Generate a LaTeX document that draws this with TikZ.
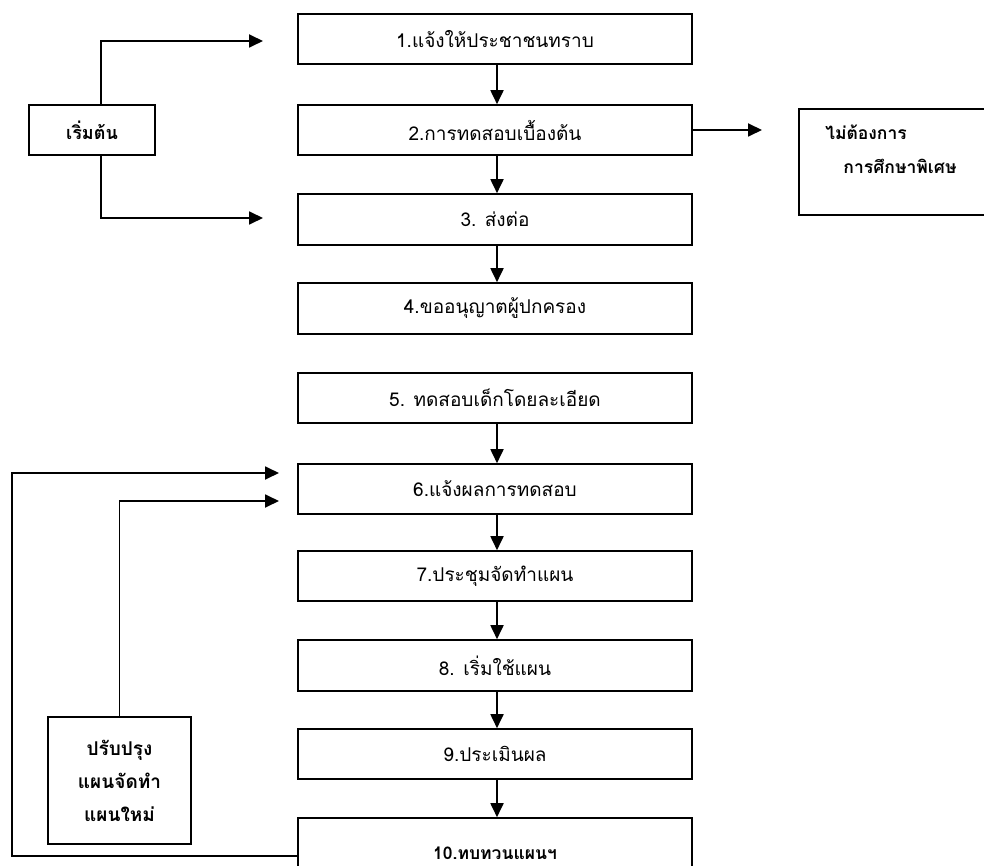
\documentclass[tikz,border=0pt]{standalone}
\usepackage{fontspec}
\newfontfamily\thai[Script=Thai]{Loma}
\usetikzlibrary{arrows.meta,calc}
\begin{document}
\begin{tikzpicture}[x=1pt,y=-1pt,
  box/.style={draw,line width=1.6pt,minimum width=394pt,minimum height=50pt,inner sep=0pt,font=\thai\fontsize{19}{22}\selectfont},
  sidebox/.style={draw,line width=1.6pt,inner sep=0pt,align=center,font=\thai\bfseries\fontsize{19}{33}\selectfont},
  lbl/.style={inner sep=0pt,font=\thai\bfseries\fontsize{17.5}{20}\selectfont},
  arr/.style={line width=1.8pt,-{Triangle[length=14pt,width=13pt]}},
  ln/.style={line width=1.8pt}]
\useasboundingbox (0,0) rectangle (984,866);
% main column
\node[box] (b1) at (495,39) {1.แจ้งให้ประชาชนทราบ};
\node[box] (b2) at (495,130) {2.การทดสอบเบื้องต้น};
\node[box,minimum height=51pt] (b3) at (495,219.5) {3. ส่งต่อ};
\node[box,minimum height=51pt] (b4) at (495,308.5) {4.ขออนุญาตผู้ปกครอง};
\node[box] (b5) at (495,398) {5. ทดสอบเด็กโดยละเอียด};
\node[box] (b6) at (495,489) {6.แจ้งผลการทดสอบ};
\node[box] (b7) at (495,576) {7.ประชุมจัดทำแผน};
\node[box,minimum height=51pt] (b8) at (495,665.5) {8. เริ่มใช้แผน};
\node[box] (b9) at (495,754) {9.ประเมินผล};
\node[box,minimum height=70pt,font=\thai\bfseries\fontsize{17.5}{20}\selectfont] (b10) at (495,853) {10.ทบทวนแผนฯ};
% side boxes
\node[sidebox,minimum width=126pt,minimum height=50pt,font=\thai\bfseries\fontsize{18}{20}\selectfont] (s) at (92,130) {เริ่มต้น};
\node[sidebox,minimum width=143pt,minimum height=127pt] (r) at (119.5,780.5) {ปรับปรุง\\แผนจัดทำ\\แผนใหม่};
\node[draw,line width=1.6pt,minimum width=191pt,minimum height=106pt,inner sep=0pt] (n) at (894.5,162) {};
\node[lbl] (n1) at (866,132) {ไม่ต้องการ};
\node[lbl] (n2) at (900,166) {การศึกษาพิเศษ};
% free ends
\coordinate (t1) at (263,41);
\coordinate (t3) at (263,218);
\coordinate (t2) at (762,130);
\coordinate (t6a) at (279,473);
\coordinate (t6b) at (279,501);
\coordinate (c1) at (12,856);
% vertical arrows
\foreach \a/\b in {b1/b2,b2/b3,b3/b4,b5/b6,b6/b7,b7/b8,b8/b9,b9/b10}
  \draw[arr] ([xshift=2pt]\a.south) -- ([xshift=2pt]\b.north);
% start connectors
\draw[arr] ([xshift=9pt]s.north) |- (t1);
\draw[arr] ([xshift=9pt]s.south) |- (t3);
\draw[arr] (b2.east) -- (t2);
% feedback loops
\draw[arr] ([yshift=-3pt]b10.west) -- (c1) |- (t6a);
\draw[arr] (r.north) |- (t6b);
\end{tikzpicture}
\end{document}
